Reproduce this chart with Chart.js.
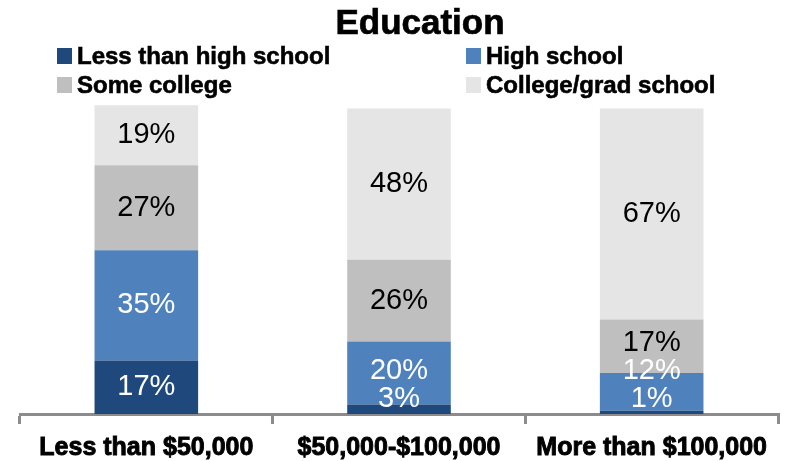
<!DOCTYPE html>
<html>
<head>
<meta charset="utf-8">
<title>Education</title>
<script src="https://cdn.jsdelivr.net/npm/chart.js@4"></script>
<style>
  html, body { margin: 0; padding: 0; background: #fff; }
  #wrap { position: relative; width: 788px; height: 461px; font-family: "Liberation Sans", Arial, sans-serif; }
  #eduChart { position: absolute; left: 0; top: 0; }
  #title {
    position: absolute; left: 420px; top: 4px; transform: translateX(-50%);
    font-size: 35px; line-height: 35px; font-weight: bold; color: #000;
    -webkit-text-stroke: 0.7px #000; white-space: nowrap;
  }
  .legend-item {
    position: absolute; height: 24px; display: flex; align-items: center;
    font-size: 24px; line-height: 24px; font-weight: bold; color: #000;
    -webkit-text-stroke: 0.6px #000; white-space: nowrap;
  }
  .legend-item span.box { width: 15px; height: 16px; margin-right: 5px; }
</style>
</head>
<body>
<div id="wrap">
  <canvas id="eduChart" width="788" height="461"></canvas>
  <div id="title">Education</div>
  <div id="legend"></div>
</div>
<script>
// Income groups along the x axis
const categories = ["Less than $50,000", "$50,000-$100,000", "More than $100,000"];

// Education levels (stack order, bottom to top)
const seriesNames = ["Less than high school", "High school", "Some college", "College/grad school"];

// Percent of each income group
const lessThanHighSchool = [17, 3, 1];
const highSchool = [35, 20, 12];
const someCollege = [27, 26, 17];
const collegeGrad = [19, 48, 67];

const seriesValues = [lessThanHighSchool, highSchool, someCollege, collegeGrad];
const fills = ["#1F497D", "#4F81BD", "#BFBFBF", "#E5E5E5"];
const labelInk = ["#ffffff", "#ffffff", "#000000", "#000000"];

// Legend in two columns
const legendSlots = [[57, 44], [466, 44], [57, 73], [466, 73]];
const legendEl = document.getElementById("legend");
seriesNames.forEach((name, i) => {
  const item = document.createElement("div");
  item.className = "legend-item";
  item.style.left = legendSlots[i][0] + "px";
  item.style.top = legendSlots[i][1] + "px";
  const box = document.createElement("span");
  box.className = "box";
  box.style.background = fills[i];
  item.appendChild(box);
  item.appendChild(document.createTextNode(name));
  legendEl.appendChild(item);
});

// Percent labels inside the segments, nudged up when a segment is too thin
const segmentLabels = {
  id: "segmentLabels",
  afterDatasetsDraw(chart) {
    const ctx = chart.ctx;
    const baseY = chart.scales.y.getPixelForValue(0);
    ctx.save();
    ctx.font = '29px "Liberation Sans", Arial, sans-serif';
    ctx.textAlign = "center";
    ctx.textBaseline = "middle";
    categories.forEach((cat, i) => {
      let prev = Infinity;
      chart.data.datasets.forEach((ds, d) => {
        const bar = chart.getDatasetMeta(d).data[i];
        let cy = (bar.y + bar.base) / 2;
        cy = Math.min(cy, baseY - 15, prev - 28);
        prev = cy;
        ctx.fillStyle = labelInk[d];
        ctx.fillText(ds.data[i] + "%", bar.x, cy);
      });
    });
    ctx.restore();
  }
};

const ctx = document.getElementById("eduChart").getContext("2d");
const eduChart = new Chart(ctx, {
  type: "bar",
  data: {
    labels: categories,
    datasets: seriesNames.map((name, i) => ({
      label: name,
      data: seriesValues[i],
      backgroundColor: fills[i],
      borderWidth: 0,
      barPercentage: 0.41,
      categoryPercentage: 1
    }))
  },
  options: {
    responsive: false,
    animation: false,
    devicePixelRatio: 1,
    layout: { padding: { top: 99, left: 20, right: 10, bottom: 0 } },
    plugins: {
      legend: { display: false },
      title: { display: false },
      tooltip: { enabled: false }
    },
    scales: {
      x: {
        stacked: true,
        // fixed axis band so the baseline sits at y = 414
        afterFit: (scale) => { scale.height = 47; },
        border: { display: true, color: "#8c8c8c", width: 3 },
        grid: {
          display: true,
          offset: true,
          drawOnChartArea: false,
          drawTicks: true,
          tickLength: 10,
          color: "#8c8c8c",
          lineWidth: 3
        },
        ticks: {
          color: "#000",
          padding: 9,
          maxRotation: 0,
          autoSkip: false,
          font: { family: '"Liberation Sans", Arial, sans-serif', size: 25, weight: "bold" },
          textStrokeColor: "#000",
          textStrokeWidth: 0.9
        }
      },
      y: {
        stacked: true,
        display: false,
        min: 0,
        max: 100
      }
    }
  },
  plugins: [segmentLabels]
});
</script>
</body>
</html>
